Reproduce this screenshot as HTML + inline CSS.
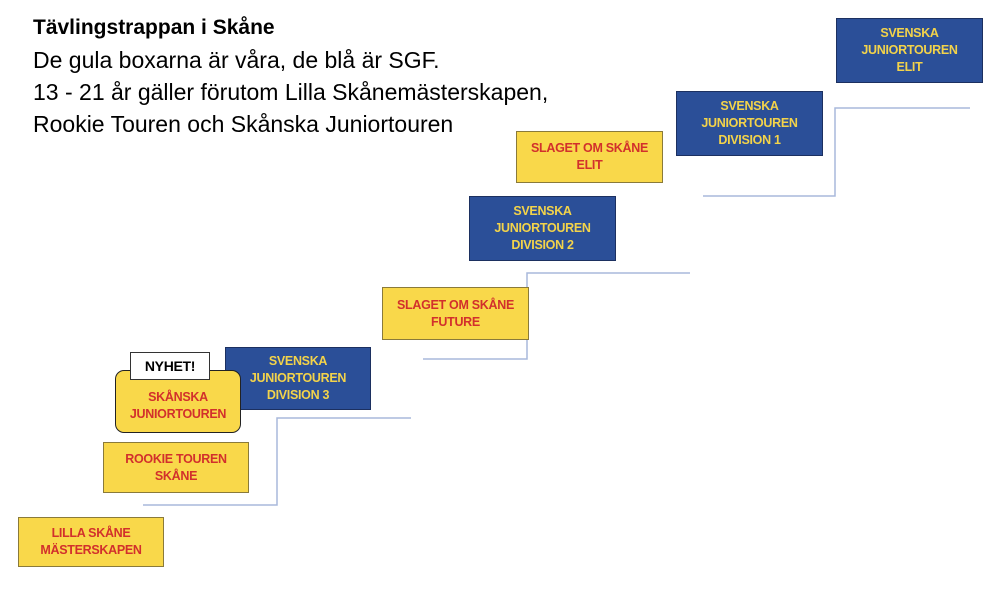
<!DOCTYPE html>
<html><head><meta charset="utf-8"><style>
body{margin:0;width:1000px;height:593px;background:#fff;position:relative;overflow:hidden;font-family:"Liberation Sans",sans-serif}
.t{position:absolute;left:33px;color:#000;white-space:nowrap}
.b{position:absolute;box-sizing:border-box;display:flex;align-items:center;justify-content:center;text-align:center;font-weight:bold;font-size:12.5px;line-height:17px;letter-spacing:-0.3px}
.y{background:#f9d84a;border:1px solid #8a7a3a;color:#d2302c}
.u{background:#2b4f98;border:1px solid #1c3060;color:#f3d34a}
</style></head><body>
<div class="t" style="top:16px;font-size:21px;font-weight:bold">Tävlingstrappan i Skåne</div>
<div class="t" style="top:47px;font-size:23px">De gula boxarna är våra, de blå är SGF.</div>
<div class="t" style="top:79px;font-size:23px">13 - 21 år gäller förutom Lilla Skånemästerskapen,</div>
<div class="t" style="top:111px;font-size:23px">Rookie Touren och Skånska Juniortouren</div>
<svg style="position:absolute;left:0;top:0" width="1000" height="593">
<g fill="none" stroke="#a9b9dc" stroke-width="1.5">
<polyline points="143,505 277,505 277,418 411,418"/>
<polyline points="423,359 527,359 527,273 690,273"/>
<polyline points="703,196 835,196 835,108 970,108"/>
</g></svg>
<div class="b y" style="left:18px;top:517px;width:146px;height:50px">LILLA SKÅNE<br>MÄSTERSKAPEN</div>
<div class="b y" style="left:103px;top:442px;width:146px;height:51px">ROOKIE TOUREN<br>SKÅNE</div>
<div class="b u" style="left:225px;top:347px;width:146px;height:63px">SVENSKA<br>JUNIORTOUREN<br>DIVISION 3</div>
<div class="b y" style="left:115px;top:370px;width:126px;height:63px;border:1.5px solid #222;border-radius:9px;padding-top:8px">SKÅNSKA<br>JUNIORTOUREN</div>
<div class="b" style="left:130px;top:352px;width:80px;height:28px;background:#fff;border:1px solid #333;color:#000;font-size:14px">NYHET!</div>
<div class="b y" style="left:382px;top:287px;width:147px;height:53px">SLAGET OM SKÅNE<br>FUTURE</div>
<div class="b u" style="left:469px;top:196px;width:147px;height:65px">SVENSKA<br>JUNIORTOUREN<br>DIVISION 2</div>
<div class="b y" style="left:516px;top:131px;width:147px;height:52px">SLAGET OM SKÅNE<br>ELIT</div>
<div class="b u" style="left:676px;top:91px;width:147px;height:65px">SVENSKA<br>JUNIORTOUREN<br>DIVISION 1</div>
<div class="b u" style="left:836px;top:18px;width:147px;height:65px">SVENSKA<br>JUNIORTOUREN<br>ELIT</div>
</body></html>
